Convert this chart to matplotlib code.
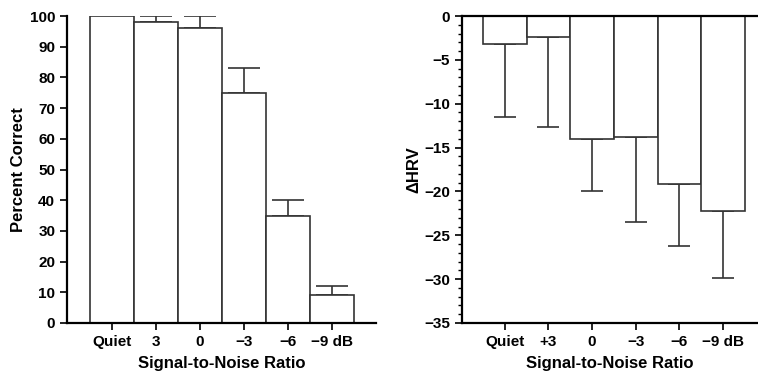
import matplotlib
matplotlib.use("Agg")
import matplotlib.pyplot as plt
import numpy as np

plt.rcParams['font.family'] = ['Liberation Sans', 'DejaVu Sans']
plt.rcParams['font.weight'] = 'bold'

# Left panel data
left_labels = ["Quiet", "3", "0", "\u22123", "\u22126", "\u22129 dB"]
percent_correct = [100, 98, 96, 75, 35, 9]
percent_err = [np.nan, 2, 4, 8, 5, 3]

# Right panel data
right_labels = ["Quiet", "+3", "0", "\u22123", "\u22126", "\u22129 dB"]
delta_hrv = [-3.2, -2.4, -14.0, -13.8, -19.2, -22.2]
hrv_err = [8.3, 10.2, 6.0, 9.7, 7.0, 7.7]

edge = "#333333"
W, H = 758, 378
fig = plt.figure(figsize=(W / 100, H / 100), dpi=100)

axL = fig.add_axes([67 / W, (H - 323) / H, 309 / W, 307 / H])
axR = fig.add_axes([462 / W, (H - 323) / H, 296 / W, 307 / H])

x = np.arange(len(left_labels))

# Left
axL.bar(x, percent_correct, width=1.0, color="white", edgecolor=edge, linewidth=1.2, zorder=2)
lower = np.zeros(len(x))
axL.errorbar(x, percent_correct, yerr=[lower, percent_err], fmt="none", ecolor=edge,
             elinewidth=1.2, capsize=11.5, capthick=1.2, zorder=1)
axL.set_xlim(-1.02, 6.0)
axL.set_ylim(0, 100)
axL.set_yticks(np.arange(0, 101, 10))
axL.set_xticks(x)
axL.set_xticklabels(left_labels)
axL.spines['top'].set_visible(False)
axL.spines['right'].set_visible(False)
axL.spines['left'].set_linewidth(1.6)
axL.spines['bottom'].set_linewidth(1.6)
axL.tick_params(axis='both', labelsize=11, width=1.4, length=5, color="#222222")
axL.set_ylabel("Percent Correct", fontsize=12, fontweight='bold', labelpad=3)
axL.set_xlabel("Signal-to-Noise Ratio", fontsize=12, fontweight='bold', labelpad=5)

# Right
axR.bar(x, delta_hrv, width=1.0, color="white", edgecolor=edge, linewidth=1.2, zorder=2)
lowerR = np.zeros(len(x))
axR.errorbar(x, delta_hrv, yerr=[hrv_err, lowerR], fmt="none", ecolor=edge,
             elinewidth=1.2, capsize=8, capthick=1.2, zorder=1)
axR.set_xlim(-0.98, 5.8)
axR.set_ylim(-35, 0)
axR.set_yticks(np.arange(-35, 1, 5))
axR.set_yticks(np.arange(-35, 1, 1), minor=True)
axR.set_yticklabels([("\u2212%d" % -v if v < 0 else "0") for v in np.arange(-35, 1, 5)])
axR.set_xticks(x)
axR.set_xticklabels(right_labels)
axR.spines['right'].set_visible(False)
axR.spines['left'].set_linewidth(1.6)
axR.spines['bottom'].set_linewidth(1.6)
axR.spines['top'].set_linewidth(1.6)
axR.tick_params(axis='both', labelsize=11, width=1.4, length=5, color="#222222")
axR.tick_params(axis='y', which='minor', length=3, width=1.0)
axR.set_ylabel("\u0394HRV", fontsize=12, fontweight='bold', labelpad=2)
axR.set_xlabel("Signal-to-Noise Ratio", fontsize=12, fontweight='bold', labelpad=5)

fig.savefig("out.png", dpi=100)
